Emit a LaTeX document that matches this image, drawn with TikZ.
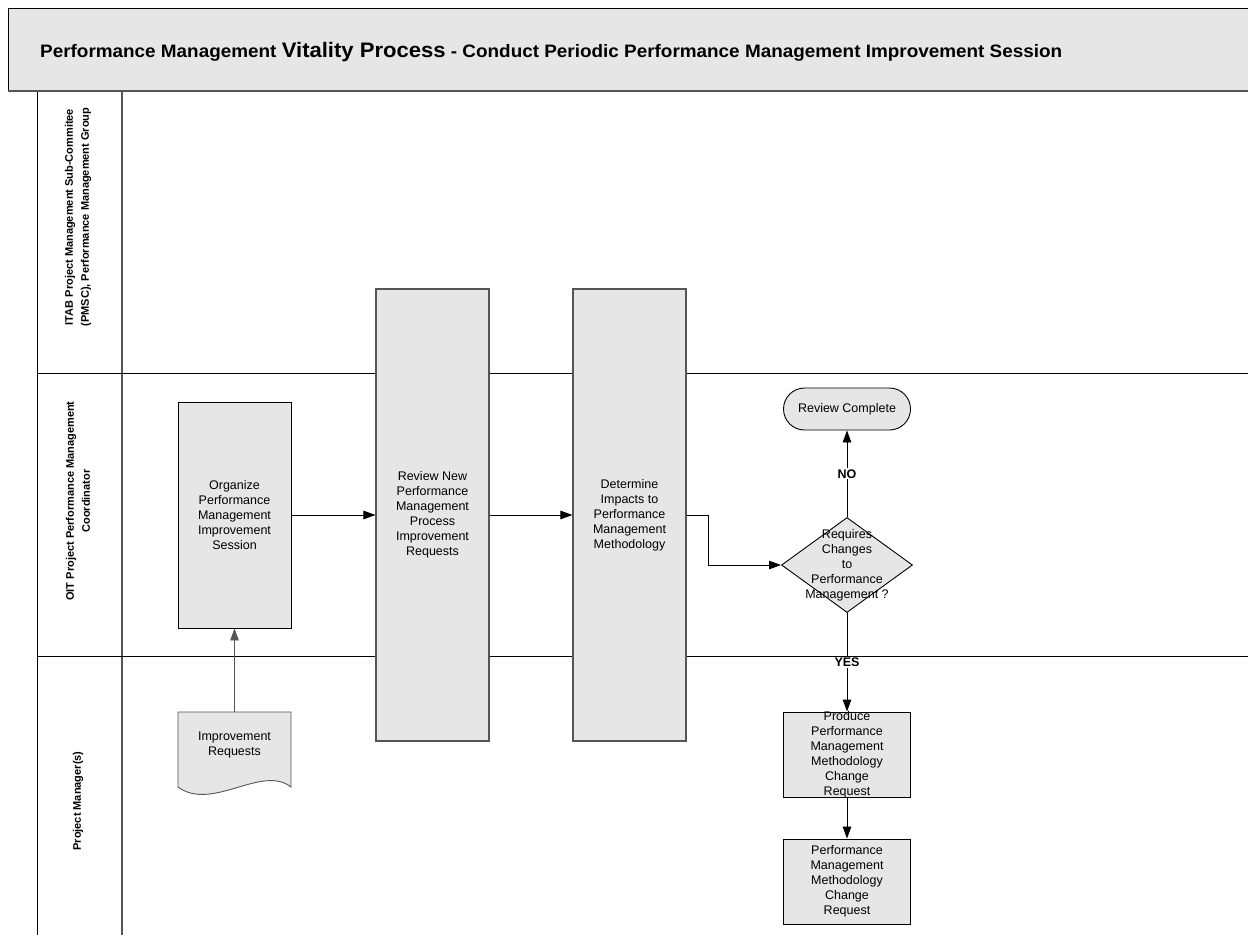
\documentclass[tikz,border=0pt]{standalone}
\usepackage{fontspec}
\setmainfont{Liberation Sans}
\usetikzlibrary{shapes.geometric,arrows.meta,calc}
\definecolor{boxgray}{HTML}{E6E6E6}
\definecolor{edgegray}{HTML}{555555}

\begin{document}
\begin{tikzpicture}[x=1pt,y=-1pt,
  every node/.style={font=\fontsize{12.5}{15}\selectfont, align=center},
  procbox/.style={draw=black, fill=boxgray, line width=0.9pt, inner sep=0pt},
  tallbox/.style={procbox, draw=edgegray, line width=1.1pt, minimum width=113pt, minimum height=452pt},
  decision/.style={diamond, draw=black, fill=boxgray, line width=0.9pt, inner sep=0pt,
                   minimum width=131pt, minimum height=95pt},
  terminal/.style={procbox, rounded corners=21pt, minimum width=127pt, minimum height=42pt},
  flow/.style={line width=0.9pt, -{Triangle[length=12pt,width=8.5pt]}},
  flag/.style={fill=white, inner sep=1pt, font=\fontsize{12.5}{15}\selectfont\bfseries},
  lanelabel/.style={rotate=90, font=\fontsize{11}{16}\selectfont\bfseries},
  laneline/.style={line width=0.9pt, draw=black}]

\useasboundingbox (0,0) rectangle (1248,935);

% title banner
\fill[boxgray] (8,8) rectangle (1252,92);
\draw[line width=0.8pt] (1252,8) -- (8,8) -- (8,92);
\draw[edgegray, line width=2pt] (8,91) -- (1252,91);
\node[anchor=base west, inner sep=0pt] (title) at (40,57)
  {\resizebox{1022pt}{\height}{\bfseries\fontsize{18}{20}\selectfont Performance Management
   {\fontsize{21}{24}\selectfont Vitality Process} - Conduct Periodic Performance Management Improvement Session}};

% swimlane frame
\draw[laneline] (37,92) -- (37,935);
\draw[edgegray, line width=1.4pt] (122,92) -- (122,935);
\draw[laneline] (37,373) -- (1248,373);
\draw[laneline] (37,656) -- (1248,656);

\node[lanelabel] (lane1) at (78,217) {ITAB Project Management Sub-Commitee\\(PMSC), Performance Management Group};
\node[lanelabel] (lane2) at (78,501) {OIT Project Performance Management\\Coordinator};
\node[lanelabel] (lane3) at (78,801) {Project Manager(s)};

% process steps
\node[procbox, minimum width=113pt, minimum height=226pt] (org) at (234.5,515)
  {Organize\\Performance\\Management\\Improvement\\Session};
\node[tallbox] (rev) at (432.5,515)
  {Review New\\Performance\\Management\\Process\\Improvement\\Requests};
\node[tallbox] (det) at (629.5,515)
  {Determine\\Impacts to\\Performance\\Management\\Methodology};

\node[decision, label={center:Requires\\Changes\\to\\Performance\\Management ?}] (dec) at (847,565) {};
\node[terminal] (done) at (847,409) {Review Complete};
\node[procbox, minimum width=127pt, minimum height=85pt,
      label={center:Produce\\Performance\\Management\\Methodology\\Change\\Request}] (prod) at (847,754.5) {};
\node[procbox, minimum width=127pt, minimum height=85pt] (pmcr) at (847,881.5)
  {Performance\\Management\\Methodology\\Change\\Request};

% input document
\filldraw[fill=boxgray, draw=edgegray, line width=0.9pt]
  (178,712) -- (291,712) -- (291,787)
  .. controls (262,764) and (212,812) .. (178,787) -- cycle;
\node[minimum width=113pt, minimum height=65pt, inner sep=0pt] (doc) at (234.5,744.5)
  {Improvement\\Requests};

% connectors
\draw[flow, draw=edgegray] (doc.north) -- (org.south);
\draw[flow] (org.east) -- (rev.west);
\draw[flow] (rev.east) -- (det.west);
\draw[flow] (det.east) -- ++(22,0) |- (dec.west);
\draw[flow] (dec.north) -- node[flag] {NO} (done.south);
\draw[flow] (dec.south) -- node[flag] {YES} (prod.north);
\draw[flow] (prod.south) -- (pmcr.north);

\end{tikzpicture}
\end{document}
